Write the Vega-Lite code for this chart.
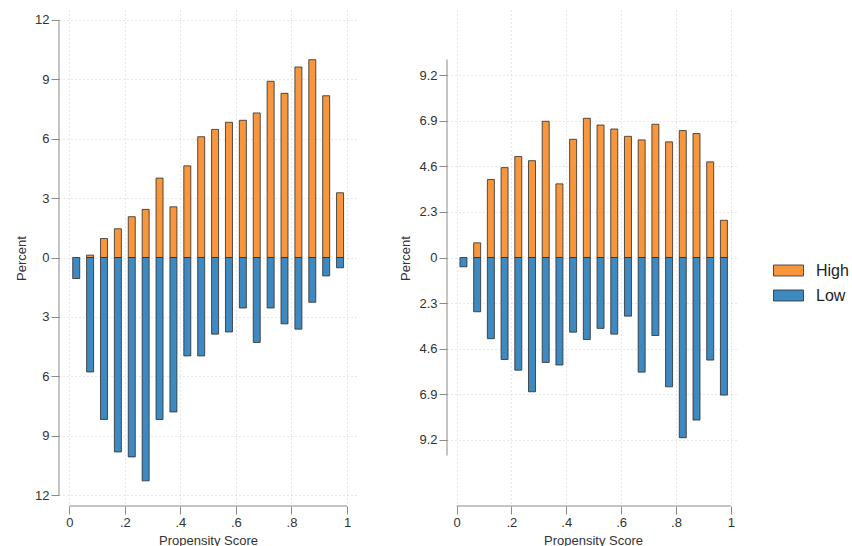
{
  "$schema": "https://vega.github.io/schema/vega-lite/v6.json",
  "padding": {"left": 15, "top": 10, "right": 0, "bottom": 0},
  "background": "white",
  "datasets": {
    "left": [
      {"ps": 0.025, "group": "Low", "pct": -1.06},
      {"ps": 0.075, "group": "High", "pct": 0.12},
      {"ps": 0.075, "group": "Low", "pct": -5.78},
      {"ps": 0.125, "group": "High", "pct": 0.96},
      {"ps": 0.125, "group": "Low", "pct": -8.18},
      {"ps": 0.175, "group": "High", "pct": 1.45},
      {"ps": 0.175, "group": "Low", "pct": -9.82},
      {"ps": 0.225, "group": "High", "pct": 2.06},
      {"ps": 0.225, "group": "Low", "pct": -10.07},
      {"ps": 0.275, "group": "High", "pct": 2.43},
      {"ps": 0.275, "group": "Low", "pct": -11.28},
      {"ps": 0.325, "group": "High", "pct": 4.01},
      {"ps": 0.325, "group": "Low", "pct": -8.18},
      {"ps": 0.375, "group": "High", "pct": 2.56},
      {"ps": 0.375, "group": "Low", "pct": -7.8},
      {"ps": 0.425, "group": "High", "pct": 4.63},
      {"ps": 0.425, "group": "Low", "pct": -4.97},
      {"ps": 0.475, "group": "High", "pct": 6.1},
      {"ps": 0.475, "group": "Low", "pct": -4.97},
      {"ps": 0.525, "group": "High", "pct": 6.47},
      {"ps": 0.525, "group": "Low", "pct": -3.87},
      {"ps": 0.575, "group": "High", "pct": 6.83},
      {"ps": 0.575, "group": "Low", "pct": -3.76},
      {"ps": 0.625, "group": "High", "pct": 6.93},
      {"ps": 0.625, "group": "Low", "pct": -2.55},
      {"ps": 0.675, "group": "High", "pct": 7.3},
      {"ps": 0.675, "group": "Low", "pct": -4.29},
      {"ps": 0.725, "group": "High", "pct": 8.9},
      {"ps": 0.725, "group": "Low", "pct": -2.55},
      {"ps": 0.775, "group": "High", "pct": 8.29},
      {"ps": 0.775, "group": "Low", "pct": -3.35},
      {"ps": 0.825, "group": "High", "pct": 9.62},
      {"ps": 0.825, "group": "Low", "pct": -3.62},
      {"ps": 0.875, "group": "High", "pct": 9.99},
      {"ps": 0.875, "group": "Low", "pct": -2.26},
      {"ps": 0.925, "group": "High", "pct": 8.17},
      {"ps": 0.925, "group": "Low", "pct": -0.93},
      {"ps": 0.975, "group": "High", "pct": 3.27},
      {"ps": 0.975, "group": "Low", "pct": -0.52}
    ],
    "right": [
      {"ps": 0.025, "group": "Low", "pct": -0.47},
      {"ps": 0.075, "group": "High", "pct": 0.74},
      {"ps": 0.075, "group": "Low", "pct": -2.74},
      {"ps": 0.125, "group": "High", "pct": 3.94},
      {"ps": 0.125, "group": "Low", "pct": -4.1},
      {"ps": 0.175, "group": "High", "pct": 4.54},
      {"ps": 0.175, "group": "Low", "pct": -5.15},
      {"ps": 0.225, "group": "High", "pct": 5.1},
      {"ps": 0.225, "group": "Low", "pct": -5.69},
      {"ps": 0.275, "group": "High", "pct": 4.89},
      {"ps": 0.275, "group": "Low", "pct": -6.78},
      {"ps": 0.325, "group": "High", "pct": 6.88},
      {"ps": 0.325, "group": "Low", "pct": -5.3},
      {"ps": 0.375, "group": "High", "pct": 3.72},
      {"ps": 0.375, "group": "Low", "pct": -5.43},
      {"ps": 0.425, "group": "High", "pct": 5.97},
      {"ps": 0.425, "group": "Low", "pct": -3.77},
      {"ps": 0.475, "group": "High", "pct": 7.03},
      {"ps": 0.475, "group": "Low", "pct": -4.14},
      {"ps": 0.525, "group": "High", "pct": 6.69},
      {"ps": 0.525, "group": "Low", "pct": -3.58},
      {"ps": 0.575, "group": "High", "pct": 6.49},
      {"ps": 0.575, "group": "Low", "pct": -3.87},
      {"ps": 0.625, "group": "High", "pct": 6.12},
      {"ps": 0.625, "group": "Low", "pct": -2.96},
      {"ps": 0.675, "group": "High", "pct": 5.94},
      {"ps": 0.675, "group": "Low", "pct": -5.79},
      {"ps": 0.725, "group": "High", "pct": 6.73},
      {"ps": 0.725, "group": "Low", "pct": -3.94},
      {"ps": 0.775, "group": "High", "pct": 5.84},
      {"ps": 0.775, "group": "Low", "pct": -6.53},
      {"ps": 0.825, "group": "High", "pct": 6.41},
      {"ps": 0.825, "group": "Low", "pct": -9.1},
      {"ps": 0.875, "group": "High", "pct": 6.26},
      {"ps": 0.875, "group": "Low", "pct": -8.21},
      {"ps": 0.925, "group": "High", "pct": 4.83},
      {"ps": 0.925, "group": "Low", "pct": -5.18},
      {"ps": 0.975, "group": "High", "pct": 1.88},
      {"ps": 0.975, "group": "Low", "pct": -6.95}
    ],
    "one": [{}]
  },
  "config": {
    "view": {"stroke": null},
    "font": "Liberation Sans",
    "axis": {
      "labelFont": "Liberation Sans",
      "labelFontSize": 13,
      "labelColor": "#333333",
      "titleFont": "Liberation Sans",
      "titleFontSize": 13,
      "titleFontWeight": "normal",
      "titleColor": "#333333",
      "tickColor": "#8a8a8a",
      "tickSize": 8,
      "labelPadding": 2,
      "domain": false,
      "gridColor": "#cfcfcf",
      "gridDash": [1, 3],
      "gridWidth": 1
    },
    "axisY": {"titlePadding": 6},
    "axisX": {"titlePadding": 5}
  },
  "spacing": 42,
  "hconcat": [
    {
      "width": 298,
      "height": 496,
      "layer": [
        {
          "data": {"name": "left"},
          "mark": {"type": "bar", "width": 7, "stroke": "#2b2b2b", "strokeWidth": 0.8},
          "encoding": {
            "x": {
              "field": "ps", "type": "quantitative",
              "scale": {"domain": [-0.037, 1.036], "nice": false, "zero": false, "padding": 0},
              "axis": {"values": [0, 0.2, 0.4, 0.6, 0.8, 1], "labelExpr": "datum.value == 0 ? '0' : datum.value == 1 ? '1' : replace(format(datum.value, '.1f'), '0.', '.')", "title": "Propensity Score"}
            },
            "y": {
              "field": "pct", "type": "quantitative", "stack": null,
              "scale": {"domain": [-12.55, 12.5], "nice": false, "padding": 0},
              "axis": {"values": [-12, -9, -6, -3, 0, 3, 6, 9, 12], "labelExpr": "format(abs(datum.value), '~g')", "title": "Percent"}
            },
            "color": {
              "field": "group", "type": "nominal",
              "scale": {"domain": ["High", "Low"], "range": ["#F7963C", "#3F89C1"]},
              "legend": {
                "title": null, "orient": "none", "legendX": 714, "legendY": 245,
                "symbolType": "M-1,-0.367H1V0.367H-1Z", "symbolSize": 900,
                "symbolStrokeColor": "#2b2b2b", "symbolStrokeWidth": 0.8, "symbolOpacity": 1,
                "labelFont": "Liberation Sans", "labelFontSize": 16, "labelColor": "#222222",
                "labelOffset": 12, "rowPadding": 1, "padding": 0
              }
            }
          }
        },
        {
          "data": {"name": "one"},
          "mark": {"type": "rule", "color": "#8a8a8a", "strokeWidth": 1},
          "encoding": {"x": {"datum": -0.037}, "y": {"datum": -12}, "y2": {"datum": 12}}
        },
        {
          "data": {"name": "one"},
          "mark": {"type": "rule", "color": "#8a8a8a", "strokeWidth": 1},
          "encoding": {"x": {"datum": 0}, "x2": {"datum": 1}, "y": {"datum": -12.55}}
        }
      ]
    },
    {
      "width": 292,
      "height": 496,
      "layer": [
        {
          "data": {"name": "right"},
          "mark": {"type": "bar", "width": 7, "stroke": "#2b2b2b", "strokeWidth": 0.8},
          "encoding": {
            "x": {
              "field": "ps", "type": "quantitative",
              "scale": {"domain": [-0.035, 1.03], "nice": false, "zero": false, "padding": 0},
              "axis": {"values": [0, 0.2, 0.4, 0.6, 0.8, 1], "labelExpr": "datum.value == 0 ? '0' : datum.value == 1 ? '1' : replace(format(datum.value, '.1f'), '0.', '.')", "title": "Propensity Score"}
            },
            "y": {
              "field": "pct", "type": "quantitative", "stack": null,
              "scale": {"domain": [-12.55, 12.5], "nice": false, "padding": 0},
              "axis": {"values": [-9.2, -6.9, -4.6, -2.3, 0, 2.3, 4.6, 6.9, 9.2], "labelExpr": "format(abs(datum.value), '~g')", "title": "Percent"}
            },
            "color": {"field": "group", "type": "nominal"}
          }
        },
        {
          "data": {"name": "one"},
          "mark": {"type": "rule", "color": "#8a8a8a", "strokeWidth": 1},
          "encoding": {"x": {"datum": -0.035}, "y": {"datum": -10}, "y2": {"datum": 10}}
        },
        {
          "data": {"name": "one"},
          "mark": {"type": "rule", "color": "#8a8a8a", "strokeWidth": 1},
          "encoding": {"x": {"datum": 0}, "x2": {"datum": 1}, "y": {"datum": -12.55}}
        }
      ]
    }
  ]
}
